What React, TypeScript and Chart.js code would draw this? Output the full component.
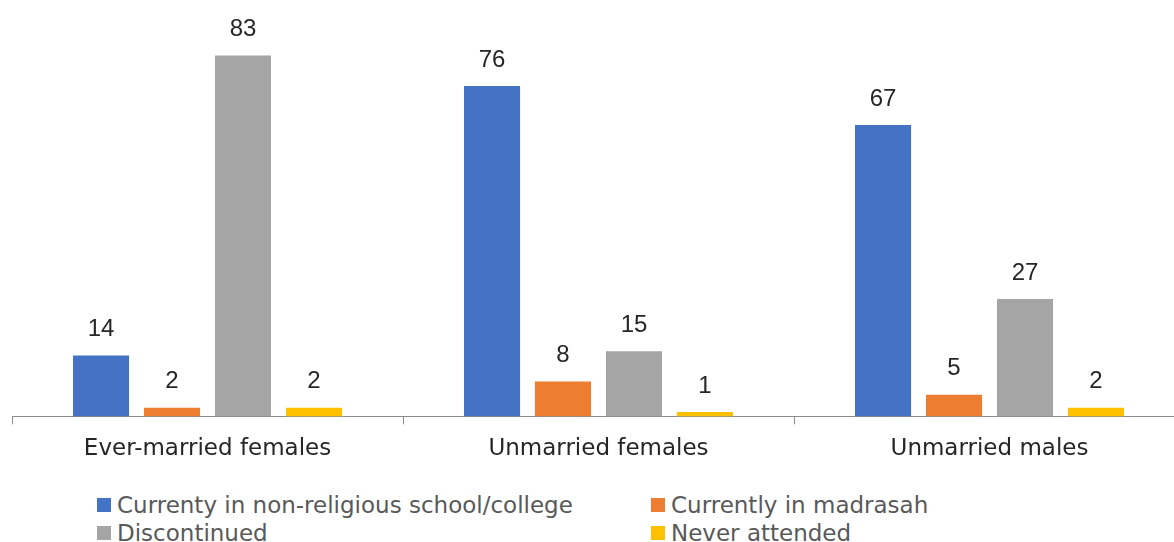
import React, { useEffect, useRef } from "react";
import { Chart, registerables } from "chart.js";

Chart.register(...registerables);

const categories = ["Ever-married females", "Unmarried females", "Unmarried males"];
const seriesNames = [
  "Currenty in non-religious school/college",
  "Currently in madrasah",
  "Discontinued",
  "Never attended",
];
const nonReligious = [14, 76, 67];
const madrasah = [2, 8, 5];
const discontinued = [83, 15, 27];
const neverAttended = [2, 1, 2];
const seriesColors = ["#4472C4", "#ED7D31", "#A5A5A5", "#FFC000"];

const valueLabels = {
  id: "valueLabels",
  afterDatasetsDraw(chart: any) {
    const ctx = chart.ctx;
    ctx.save();
    ctx.font = "24px 'Liberation Sans', Arial, sans-serif";
    ctx.fillStyle = "#262626";
    ctx.textAlign = "center";
    ctx.textBaseline = "middle";
    chart.data.datasets.forEach((ds: any, i: number) => {
      const meta = chart.getDatasetMeta(i);
      meta.data.forEach((bar: any, j: number) => {
        ctx.fillText(String(ds.data[j]), bar.x, bar.y - 26);
      });
    });
    ctx.restore();
  },
};

export default function App() {
  const ref = useRef<HTMLCanvasElement | null>(null);
  useEffect(() => {
    if (!ref.current) return;
    const data = [nonReligious, madrasah, discontinued, neverAttended];
    const chart = new Chart(ref.current, {
      type: "bar",
      data: {
        labels: categories,
        datasets: seriesNames.map((name, i) => ({
          label: name,
          data: data[i],
          backgroundColor: seriesColors[i],
          categoryPercentage: 0.726,
          barPercentage: 0.79,
        })),
      },
      options: {
        animation: false,
        responsive: false,
        maintainAspectRatio: false,
        layout: { padding: { left: 12, right: 5, top: 25, bottom: 1 } },
        plugins: { legend: { display: false }, tooltip: { enabled: false } },
        scales: {
          y: { display: false, min: 0, max: 90 },
          x: {
            border: { display: true, color: "#8C8C8C", width: 1 },
            grid: {
              display: true,
              drawOnChartArea: false,
              offset: true,
              tickLength: 8,
              color: "#8C8C8C",
            },
            ticks: {
              padding: 11,
              color: "#262626",
              font: { family: "'DejaVu Sans', sans-serif", size: 23 },
            },
          },
        },
      },
      plugins: [valueLabels],
    });
    return () => chart.destroy();
  }, []);

  const legendItem = (i: number) => (
    <div style={{ display: "flex", alignItems: "center", height: 28 }}>
      <span
        style={{
          display: "inline-block",
          width: 14,
          height: 14,
          background: seriesColors[i],
          marginRight: 6,
        }}
      />
      <span>{seriesNames[i]}</span>
    </div>
  );

  return (
    <div
      style={{
        position: "fixed",
        left: 0,
        top: 0,
        width: 1174,
        height: 542,
        overflow: "hidden",
        background: "#fff",
      }}
    >
      <canvas ref={ref} width={1190} height={475} style={{ display: "block" }} />
      <div
        style={{
          position: "absolute",
          left: 97,
          top: 491,
          fontFamily: "'DejaVu Sans', sans-serif",
          fontSize: 23,
          color: "#595959",
          display: "grid",
          gridTemplateColumns: "554px auto",
        }}
      >
        {legendItem(0)}
        {legendItem(1)}
        {legendItem(2)}
        {legendItem(3)}
      </div>
    </div>
  );
}
